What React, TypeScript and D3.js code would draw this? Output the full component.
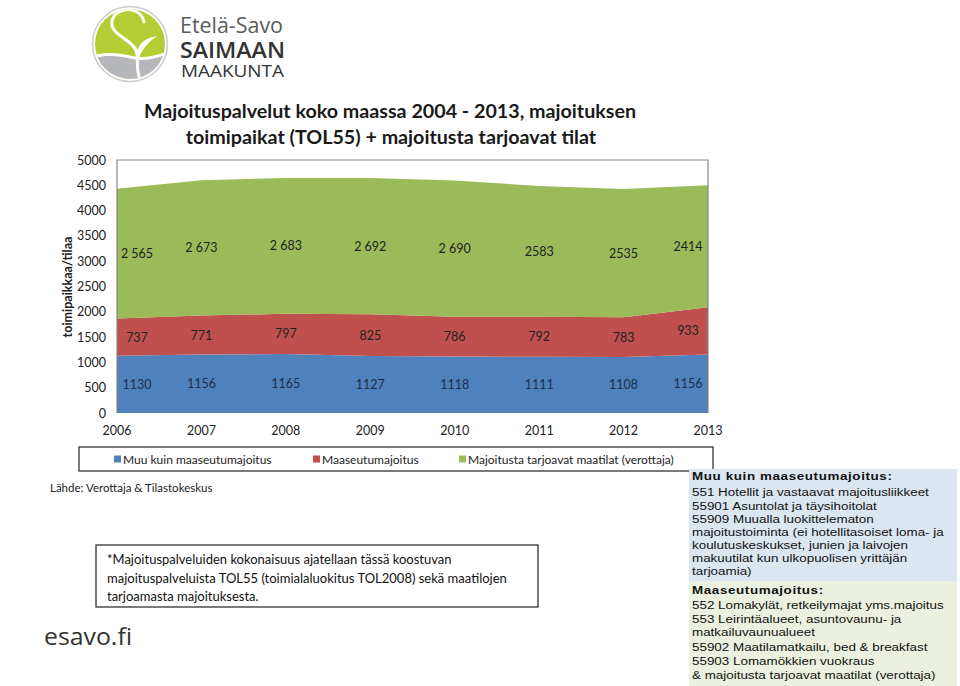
import React from "react";
import * as d3 from "d3";

const years = ["2006", "2007", "2008", "2009", "2010", "2011", "2012", "2013"];
const muuKuin = [1130, 1156, 1165, 1127, 1118, 1111, 1108, 1156];
const maaseutu = [737, 771, 797, 825, 786, 792, 783, 933];
const maatilat = [2565, 2673, 2683, 2692, 2690, 2583, 2535, 2414];
const maatilatText = ["2 565", "2 673", "2 683", "2 692", "2 690", "2583", "2535", "2414"];
const yTicks = [0, 500, 1000, 1500, 2000, 2500, 3000, 3500, 4000, 4500, 5000];
const seriesNames = ["Muu kuin maaseutumajoitus", "Maaseutumajoitus", "Majoitusta tarjoavat maatilat (verottaja)"];
const colors = ["#4f81bd", "#c0504d", "#9bbb59"];

const blueBoxLines = [
  { t: "Muu kuin maaseutumajoitus:", b: true },
  { t: "551 Hotellit ja vastaavat majoitusliikkeet", b: false },
  { t: "55901 Asuntolat ja täysihoitolat", b: false },
  { t: "55909 Muualla luokittelematon", b: false },
  { t: "majoitustoiminta (ei hotellitasoiset loma- ja", b: false },
  { t: "koulutuskeskukset, junien ja laivojen", b: false },
  { t: "makuutilat kun ulkopuolisen yrittäjän", b: false },
  { t: "tarjoamia)", b: false },
];
const greenBoxLines = [
  { t: "Maaseutumajoitus:", b: true },
  { t: "552 Lomakylät, retkeilymajat yms.majoitus", b: false },
  { t: "553 Leirintäalueet, asuntovaunu- ja", b: false },
  { t: "matkailuvaunualueet", b: false },
  { t: "55902 Maatilamatkailu, bed & breakfast", b: false },
  { t: "55903 Lomamökkien vuokraus", b: false },
  { t: "& majoitusta tarjoavat maatilat (verottaja)", b: false },
];
const blueLineY = [476, 492, 506, 519, 532, 545, 558, 571];
const greenLineY = [590, 605, 619, 632, 647, 661, 675];

const noteLines = [
  "*Majoituspalveluiden kokonaisuus ajatellaan tässä koostuvan",
  "majoituspalveluista TOL55 (toimialaluokitus TOL2008) sekä maatilojen",
  "tarjoamasta majoituksesta.",
];

const CAL = "Lato, 'Open Sans', sans-serif";
const ARIAL = "'Liberation Sans', Arial, sans-serif";

export default function App() {
  const W = 960, H = 686;
  const left = 117, right = 708, top = 160, bottom = 413;
  const x = d3.scalePoint<string>().domain(years).range([left, right]);
  const y = d3.scaleLinear().domain([0, 5000]).range([bottom, top]);

  const rows = years.map((yr, i) => ({ year: yr, a: muuKuin[i], b: maaseutu[i], c: maatilat[i] }));
  const stack = d3.stack<any>().keys(["a", "b", "c"]);
  const series = stack(rows);
  const area = d3
    .area<any>()
    .x((d) => x(d.data.year) as number)
    .y0((d) => y(d[0]))
    .y1((d) => y(d[1]));

  const labelTexts = [
    muuKuin.map((v) => String(v)),
    maaseutu.map((v) => String(v)),
    maatilatText,
  ];

  const clampX = (v: number) => Math.max(left + 20, Math.min(right - 20, v));
  const legendPos = [
    { sx: 114, tx: 123 },
    { sx: 313, tx: 322 },
    { sx: 459, tx: 468 },
  ];
  const boxX = 692;
  const stretch = 1.22;

  const renderBoxLine = (l: { t: string; b: boolean }, yy: number, key: string) => (
    <text
      key={key}
      x={0}
      y={yy}
      dominantBaseline="central"
      fontFamily={ARIAL}
      fontSize={11}
      fontWeight={l.b ? 700 : 400}
      letterSpacing={l.b ? 0.5 : 0}
      fill="#111"
    >
      {l.t}
    </text>
  );

  return (
    <svg width={W} height={H} style={{ position: "absolute", left: 0, top: 0, background: "#fff" }}>
      <rect x={0} y={0} width={W} height={H} fill="#fff" />
      {/* Logo */}
      <defs>
        <clipPath id="logoClip">
          <circle cx={130} cy={44} r={35} />
        </clipPath>
      </defs>
      <circle cx={130} cy={44} r={37.5} fill="#fff" stroke="#c9cbcd" strokeWidth={1.5} />
      <g clipPath="url(#logoClip)">
        <rect x={90} y={4} width={80} height={80} fill="#b5cd34" />
        <path d="M88,57 C104,51 118,53 132,56 C146,59 156,55 172,50 L172,90 L88,90 Z" fill="#fff" />
        <path d="M88,60 C104,54 118,56 132,59 C146,62 156,58 172,53 L172,90 L88,90 Z" fill="#b5b7ba" />
        <path d="M144,22 C142,12 132,8 124,10 C112,13 108,24 116,32 C124,40 136,44 137,54 C138,64 136,72 141,81" fill="none" stroke="#fff" strokeWidth={3} strokeLinecap="round" />
        <path d="M137,55 C137,44 145,38 157,36 C150,41 143,47 139,58 Z" fill="#fff" />
      </g>
      <text x={180} y={33} fontFamily="'Open Sans', sans-serif" fontSize={22.5} fill="#5a5b5d" textLength={103} lengthAdjust="spacingAndGlyphs">Etelä-Savo</text>
      <text x={180} y={57.5} fontFamily="'Open Sans', sans-serif" fontSize={21} fill="#333" fontWeight={600} textLength={105} lengthAdjust="spacingAndGlyphs">SAIMAAN</text>
      <text x={181} y={76.5} fontFamily="'Open Sans', sans-serif" fontSize={16} fill="#333" textLength={103} lengthAdjust="spacingAndGlyphs">MAAKUNTA</text>

      {/* Title */}
      <text x={390} y={118} textAnchor="middle" fontFamily={CAL} fontWeight={700} fontSize={19.7} fill="#1a1a1a">
        Majoituspalvelut koko maassa 2004 - 2013, majoituksen
      </text>
      <text x={391} y={144} textAnchor="middle" fontFamily={CAL} fontWeight={700} fontSize={19.7} fill="#1a1a1a">
        toimipaikat (TOL55) + majoitusta tarjoavat tilat
      </text>

      {/* Areas */}
      {series.map((s, i) => (
        <path key={i} d={area(s as any) || ""} fill={colors[i]} />
      ))}
      {/* plot border */}
      <path d={`M${left},${bottom}V${top}H${right}V${bottom}`} fill="none" stroke="#858585" strokeWidth={1.2} />

      {/* data labels */}
      {series.map((s, i) =>
        s.map((d: any, j: number) => (
          <text
            key={`${i}-${j}`}
            x={clampX(x(years[j]) as number)}
            y={y((d[0] + d[1]) / 2)}
            textAnchor="middle"
            dominantBaseline="central"
            fontFamily={CAL}
            fontSize={12.5}
            fill={i === 0 ? "#1f2d4a" : "#222"}
          >
            {labelTexts[i][j]}
          </text>
        ))
      )}

      {/* y ticks */}
      {yTicks.map((t) => (
        <text key={t} x={106} y={y(t)} textAnchor="end" dominantBaseline="central" fontFamily={CAL} fontSize={12.5} fill="#222">
          {t}
        </text>
      ))}
      {/* x ticks */}
      {years.map((yr) => (
        <text key={yr} x={x(yr) as number} y={430} textAnchor="middle" dominantBaseline="central" fontFamily={CAL} fontSize={12.5} fill="#222">
          {yr}
        </text>
      ))}
      {/* y axis title */}
      <text
        transform={`translate(67,${287}) rotate(-90)`}
        textAnchor="middle"
        dominantBaseline="central"
        fontFamily={CAL}
        fontWeight={700}
        fontSize={12.5}
        fill="#222"
      >
        toimipaikkaa/tilaa
      </text>

      {/* Legend */}
      <rect x={79} y={447} width={634} height={24} fill="#fff" stroke="#333" strokeWidth={1.3} />
      {legendPos.map((p, i) => (
        <g key={i}>
          <rect x={p.sx} y={455.5} width={7} height={7} fill={colors[i]} />
          <text x={p.tx} y={459} dominantBaseline="central" fontFamily={CAL} fontSize={12} fill="#222">
            {seriesNames[i]}
          </text>
        </g>
      ))}

      <text x={50} y={487} dominantBaseline="central" fontFamily={CAL} fontSize={11.5} fill="#222">
        Lähde: Verottaja &amp; Tilastokeskus
      </text>

      {/* Note box */}
      <rect x={96} y={545} width={442} height={62} fill="#fff" stroke="#333" strokeWidth={1.3} />
      {noteLines.map((l, i) => (
        <text key={i} x={107} y={559 + i * 18.5} dominantBaseline="central" fontFamily={CAL} fontSize={13} fill="#111">
          {l}
        </text>
      ))}

      {/* Right info boxes */}
      <rect x={689} y={469} width={268} height={112} fill="#dce6f1" />
      <rect x={689} y={581} width={268} height={105} fill="#ebf1de" />
      <g transform={`translate(${boxX},0) scale(${stretch},1)`}>
        {blueBoxLines.map((l, i) => renderBoxLine(l, blueLineY[i], `b${i}`))}
        {greenBoxLines.map((l, i) => renderBoxLine(l, greenLineY[i], `g${i}`))}
      </g>

      {/* esavo.fi */}
      <text x={44} y={645} fontFamily="'Open Sans', sans-serif" fontSize={23} fill="#333" textLength={88} lengthAdjust="spacingAndGlyphs">
        esavo.fi
      </text>
    </svg>
  );
}
